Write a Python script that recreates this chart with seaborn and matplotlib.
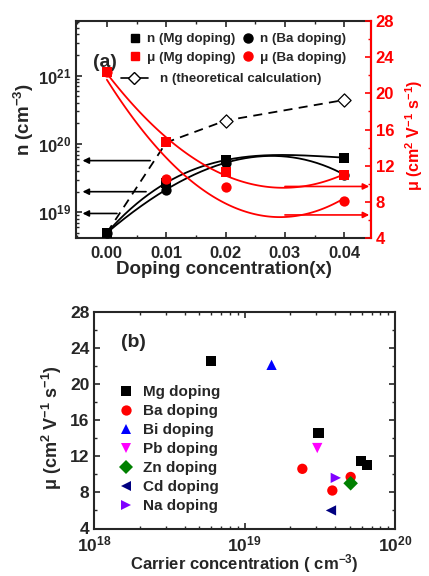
import numpy as np
import pandas as pd
import matplotlib
matplotlib.use("Agg")
import matplotlib.pyplot as plt
import matplotlib.ticker as mticker
from matplotlib.lines import Line2D
import seaborn as sns

# --- panel (a) data ---
doping_x = [0.00, 0.01, 0.02, 0.04]
n_mg = [5.0e18, 2.7e19, 5.8e19, 6.3e19]
n_ba = [5.0e18, 2.15e19, 5.3e19, 3.55e19]
n_theo = [5.0e18, 1.05e20, 2.2e20, 4.4e20]
mu_mg = [22.4, 14.6, 11.3, 11.0]
mu_ba = [22.4, 10.5, 9.6, 8.1]

# guide arrows (a): (start x, end x, level)
n_arrows = [(0.0073, -0.0041, 5.7e19), (0.0066, -0.0041, 2.0e19), (0.0017, -0.0041, 9.6e18)]
mu_arrows = [(0.030, 0.0442, 9.7), (0.030, 0.0442, 6.55)]

# --- panel (b) data ---
dopants = ["Mg doping", "Mg doping", "Mg doping", "Mg doping",
           "Ba doping", "Ba doping", "Ba doping",
           "Bi doping", "Pb doping", "Zn doping", "Cd doping", "Na doping"]
carrier = [6.0e18, 3.1e19, 5.95e19, 6.5e19,
           2.42e19, 3.83e19, 5.07e19,
           1.51e19, 3.04e19, 5.07e19, 3.75e19, 4.04e19]
mobility = [22.5, 14.6, 11.5, 11.0,
            10.6, 8.2, 9.7,
            22.1, 12.9, 9.0, 6.0, 9.6]
dopant_order = ["Mg doping", "Ba doping", "Bi doping", "Pb doping",
                "Zn doping", "Cd doping", "Na doping"]
dopant_colors = ["black", "#ff0000", "#0000ff", "#ff00ff", "#008000", "#000080", "#8000ff"]
dopant_markers = ["s", "o", "^", "v", "D", "<", ">"]

sns.set_theme(style="ticks")
plt.rcParams["font.family"] = ["Liberation Sans", "DejaVu Sans"]
plt.rcParams["font.weight"] = "bold"
plt.rcParams["axes.labelweight"] = "bold"
plt.rcParams["mathtext.fontset"] = "custom"
plt.rcParams["mathtext.rm"] = "Liberation Sans:bold"
plt.rcParams["mathtext.bf"] = "Liberation Sans:bold"
plt.rcParams["mathtext.it"] = "Liberation Sans:bold"
plt.rcParams["xtick.direction"] = "in"
plt.rcParams["ytick.direction"] = "in"

fig = plt.figure(figsize=(4.29, 5.76), dpi=100)

log_fmt = mticker.FuncFormatter(lambda v, p: r"$\mathbf{10^{%d}}$" % round(np.log10(v)))

# ================= panel (a) =================
ax1 = fig.add_axes([76 / 429, 1 - 238 / 576, 295 / 429, 217 / 576])
ax2 = ax1.twinx()

# fitted guide curves for n (cubic in log space)
xx = np.linspace(0, 0.04, 200)
for vals in (n_mg, n_ba):
    coef = np.polyfit(doping_x, np.log10(vals), 3)
    sns.lineplot(x=xx, y=10 ** np.polyval(coef, xx), ax=ax1, color="black", lw=1.3, zorder=2)

sns.lineplot(x=doping_x, y=n_theo, ax=ax1, color="black", lw=1.3, dashes=False,
             linestyle=(0, (5, 3.5)), zorder=1)
sns.scatterplot(x=doping_x[2:], y=n_theo[2:], ax=ax1, marker="D", s=45,
                facecolor="white", edgecolor="black", linewidth=0.9, zorder=3)
sns.scatterplot(x=doping_x, y=n_mg, ax=ax1, marker="s", s=50, color="black",
                linewidth=0, zorder=4)
sns.scatterplot(x=doping_x, y=n_ba, ax=ax1, marker="o", s=55, color="black",
                linewidth=0, zorder=4)

for x0, x1, lv in n_arrows:
    ax1.annotate("", xy=(x1, lv), xytext=(x0, lv),
                 arrowprops=dict(arrowstyle="-|>", color="black", lw=1.2,
                                 mutation_scale=9, shrinkA=0, shrinkB=0))

ax1.set_yscale("log")
ax1.set_ylim(4.2e18, 6.3e21)
ax1.set_xlim(-0.0052, 0.0445)
ax1.set_xticks([0.00, 0.01, 0.02, 0.03, 0.04])
ax1.xaxis.set_major_formatter(mticker.FormatStrFormatter("%.2f"))
ax1.xaxis.set_minor_locator(mticker.MultipleLocator(0.005))
ax1.yaxis.set_major_locator(mticker.LogLocator(base=10, numticks=10))
ax1.yaxis.set_minor_locator(mticker.LogLocator(base=10, subs=np.arange(2, 10), numticks=10))
ax1.yaxis.set_major_formatter(log_fmt)
ax1.yaxis.set_minor_formatter(mticker.NullFormatter())
ax1.tick_params(axis="both", which="major", length=4, width=1.2, labelsize=12, top=True, right=False)
ax1.tick_params(axis="both", which="minor", length=2.5, width=1.0, top=True, right=False)
ax1.tick_params(axis="x", pad=6)
ax1.set_xlabel("Doping concentration(x)", fontsize=13.5, labelpad=0)
ax1.set_ylabel(r"n (cm$^{-3}$)", fontsize=13.5)
ax1.yaxis.set_label_coords(-0.135, 0.544)
for s in ax1.spines.values():
    s.set_linewidth(1.5)

# mobility on the right axis
sns.regplot(x=doping_x, y=mu_mg, ax=ax2, order=2, ci=None, scatter=False, truncate=True,
            line_kws=dict(color="#ff0000", lw=1.3))
sns.regplot(x=doping_x, y=mu_ba, ax=ax2, order=2, ci=None, scatter=False, truncate=True,
            line_kws=dict(color="#ff0000", lw=1.3))
sns.scatterplot(x=doping_x, y=mu_mg, ax=ax2, marker="s", s=50, color="#ff0000",
                linewidth=0, zorder=4)
sns.scatterplot(x=doping_x, y=mu_ba, ax=ax2, marker="o", s=55, color="#ff0000",
                linewidth=0, zorder=4)
for x0, x1, lv in mu_arrows:
    ax2.annotate("", xy=(x1, lv), xytext=(x0, lv),
                 arrowprops=dict(arrowstyle="-|>", color="#ff0000", lw=1.2,
                                 mutation_scale=9, shrinkA=0, shrinkB=0))

ax2.set_xlim(-0.0052, 0.0445)
ax2.set_ylim(4, 28)
ax2.set_yticks(np.arange(4, 29, 4))
ax2.yaxis.set_minor_locator(mticker.MultipleLocator(2))
ax2.tick_params(axis="y", which="major", length=4, width=1.2, labelsize=12,
                colors="#ff0000", direction="in")
ax2.tick_params(axis="y", which="minor", length=2.5, width=1.0, colors="#ff0000", direction="in")
ax2.set_ylabel(r"μ (cm$^{2}$ V$^{-1}$ s$^{-1}$)", fontsize=11.5, color="#ff0000")
ax2.yaxis.set_label_coords(1.11, 0.475)
ax2.spines["right"].set_color("#ff0000")
ax2.spines["right"].set_linewidth(1.5)
for side in ("left", "top", "bottom"):
    ax2.spines[side].set_visible(False)

handles_a = [
    Line2D([], [], ls="none", marker="s", ms=6, color="black"),
    Line2D([], [], ls="none", marker="s", ms=6, color="#ff0000"),
    Line2D([], [], ls="none", marker="o", ms=6.5, color="black"),
    Line2D([], [], ls="none", marker="o", ms=6.5, color="#ff0000"),
]
labels_a = ["n (Mg doping)", "μ (Mg doping)", "n (Ba doping)", "μ (Ba doping)"]
leg1 = ax2.legend(handles_a, labels_a, ncol=2, frameon=False, fontsize=9.6,
                  loc="upper left", bbox_to_anchor=(0.16, 0.97), handlelength=1.0,
                  handletextpad=0.4, columnspacing=0.45, labelspacing=0.48, borderaxespad=0)
ax2.add_artist(leg1)
theo_handle = Line2D([], [], color="black", lw=1.2, marker="D", ms=6, mfc="white", mec="black")
ax2.legend([theo_handle], ["n (theoretical calculation)"], frameon=False, fontsize=9.6,
           loc="upper left", bbox_to_anchor=(0.135, 0.785), handlelength=2.0,
           handletextpad=0.9, borderaxespad=0)
ax1.text(0.098, 0.81, "(a)", transform=ax1.transAxes, fontsize=14, fontweight="bold",
         ha="center", va="center")

# ================= panel (b) =================
ax3 = fig.add_axes([94.3 / 429, 1 - 528.5 / 576, 300.7 / 429, 217 / 576])
df_b = pd.DataFrame({"dopant": dopants, "carrier": carrier, "mobility": mobility})
sns.scatterplot(data=df_b, x="carrier", y="mobility", hue="dopant", style="dopant",
                hue_order=dopant_order, style_order=dopant_order,
                palette=dict(zip(dopant_order, dopant_colors)),
                markers=dict(zip(dopant_order, dopant_markers)),
                s=55, linewidth=0, ax=ax3)
ax3.set_xscale("log")
ax3.set_xlim(1e18, 1e20)
ax3.set_ylim(4, 28)
ax3.set_yticks(np.arange(4, 29, 4))
ax3.yaxis.set_minor_locator(mticker.MultipleLocator(2))
ax3.xaxis.set_major_locator(mticker.LogLocator(base=10, numticks=10))
ax3.xaxis.set_minor_locator(mticker.LogLocator(base=10, subs=np.arange(2, 10), numticks=10))
ax3.xaxis.set_major_formatter(log_fmt)
ax3.xaxis.set_minor_formatter(mticker.NullFormatter())
ax3.tick_params(axis="both", which="major", length=4, width=1.2, labelsize=12.5,
                top=True, right=True)
ax3.tick_params(axis="both", which="minor", length=2.5, width=1.0, top=True, right=True)
ax3.tick_params(axis="x", pad=4)
ax3.set_xlabel(r"Carrier concentration ( cm$^{-3}$)", fontsize=12, labelpad=-1)
ax3.set_ylabel(r"μ (cm$^{2}$ V$^{-1}$ s$^{-1}$)", fontsize=13)
ax3.yaxis.set_label_coords(-0.10, 0.464)
for s in ax3.spines.values():
    s.set_linewidth(1.5)
sns.move_legend(ax3, "upper left", bbox_to_anchor=(0.06, 0.69), title=None, frameon=False,
                fontsize=11, handlelength=1.0, handletextpad=0.6, labelspacing=0.33,
                borderaxespad=0, markerscale=1.0)
ax3.text(0.129, 0.859, "(b)", transform=ax3.transAxes, fontsize=14, fontweight="bold",
         ha="center", va="center")

fig.savefig("out.png", dpi=100)
